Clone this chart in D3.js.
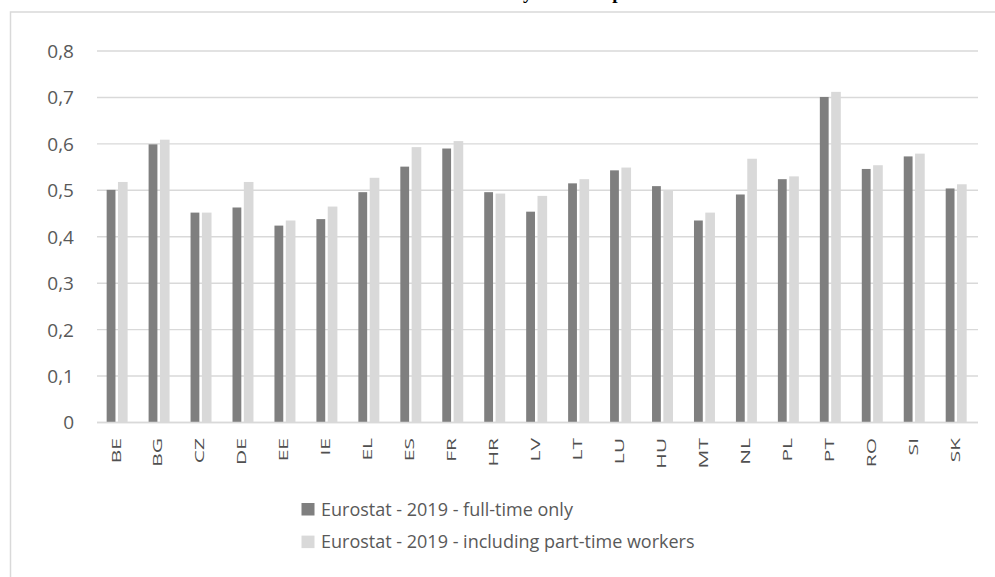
<!DOCTYPE html>
<html>
<head>
<meta charset="utf-8">
<script src="https://cdn.jsdelivr.net/npm/d3@7"></script>
<style>
  html, body { margin: 0; padding: 0; background: #fff; }
  svg { display: block; }
</style>
</head>
<body>
<svg id="chart" width="995" height="577"></svg>
<script>
const title = "Kaitz index by full-time/part-time";
const countries = ["BE","BG","CZ","DE","EE","IE","EL","ES","FR","HR","LV","LT","LU","HU","MT","NL","PL","PT","RO","SI","SK"];
const fullTimeOnly = [0.501,0.599,0.452,0.463,0.424,0.438,0.496,0.551,0.590,0.496,0.454,0.515,0.543,0.509,0.435,0.491,0.524,0.701,0.546,0.573,0.504];
const inclPartTime = [0.518,0.609,0.452,0.518,0.435,0.465,0.527,0.593,0.606,0.493,0.488,0.524,0.549,0.500,0.452,0.568,0.530,0.712,0.554,0.579,0.513];
const seriesNames = ["Eurostat - 2019 - full-time only", "Eurostat - 2019 - including part-time workers"];
const yTicks = [0,0.1,0.2,0.3,0.4,0.5,0.6,0.7,0.8];

const colors = ["#7f7f7f", "#d9d9d9"];
const textColor = "#595959";
const gridColor = "#d9d9d9";
const font = "'Open Sans', 'Noto Sans', sans-serif";

const svg = d3.select("#chart");

// Chart frame (cut off at right / bottom)
svg.append("path")
  .attr("d", "M10.5,1000 L10.5,12 L1000,12")
  .attr("fill", "none").attr("stroke", "#d9d9d9").attr("stroke-width", 1.5);

// Partially visible title (cut off at the top edge, as in the reference)
const t = svg.append("text")
  .attr("y", -1)
  .attr("font-family", "'Liberation Serif', 'Times New Roman', serif")
  .attr("font-weight", "bold")
  .attr("font-size", 19)
  .attr("fill", "#000")
  .text(title);
const yIdx = title.indexOf("by") + 1;
let off = 108.7;
try { off = t.node().getSubStringLength(0, yIdx); } catch (e) {}
t.attr("x", 523 - off);

const x = d3.scaleBand().domain(countries).range([97, 978]).padding(0);
const y = d3.scaleLinear().domain([0, 0.8]).range([422.5, 51]);

// Gridlines
svg.append("g").selectAll("line").data(yTicks).join("line")
  .attr("x1", 97).attr("x2", 978)
  .attr("y1", d => y(d)).attr("y2", d => y(d))
  .attr("stroke", gridColor).attr("stroke-width", 1.4);

// Y axis labels
const yAxis = d3.axisLeft(y).tickValues(yTicks).tickSize(0).tickPadding(0)
  .tickFormat(d => d === 0 ? "0" : d3.format(".1f")(d).replace(".", ","));
const yg = svg.append("g").attr("transform", "translate(74,0)").call(yAxis);
yg.select(".domain").remove();
yg.selectAll("text")
  .attr("font-family", font).attr("font-size", 19).attr("fill", textColor)
  .attr("dy", "0.34em");

// Bars
const bw = x.bandwidth();
const series = [fullTimeOnly, inclPartTime];
const offsets = [0.23, 0.50];
const widths = [0.21, 0.23];
series.forEach((vals, si) => {
  svg.append("g").selectAll("rect").data(countries).join("rect")
    .attr("x", c => x(c) + offsets[si] * bw)
    .attr("width", widths[si] * bw)
    .attr("y", (c, i) => y(vals[i]))
    .attr("height", (c, i) => y(0) - y(vals[i]))
    .attr("fill", colors[si]);
});

// Bottom axis line
svg.append("line")
  .attr("x1", 97).attr("x2", 978).attr("y1", y(0)).attr("y2", y(0))
  .attr("stroke", gridColor).attr("stroke-width", 1.4);

// X labels (rotated)
const xAxis = d3.axisBottom(x).tickSize(0).tickPadding(0);
const xg = svg.append("g").call(xAxis);
xg.select(".domain").remove();
xg.selectAll(".tick").attr("transform", null);
xg.selectAll(".tick text")
  .attr("font-family", font).attr("font-size", 12).attr("fill", "#505050")
  .attr("text-anchor", "end")
  .attr("dy", null).attr("y", 0).attr("x", 0)
  .attr("dominant-baseline", "central")
  .attr("transform", d => `translate(${x(d) + bw / 2 - 2},438) rotate(-90) scale(1.75,1)`);

// Legend
const legend = svg.append("g");
seriesNames.forEach((name, i) => {
  const gy = 503 + i * 32.6;
  legend.append("rect").attr("x", 301.5).attr("y", gy).attr("width", 13).attr("height", 12.5).attr("fill", colors[i]);
  legend.append("text").attr("x", 321).attr("y", gy + 12.5)
    .attr("font-family", font).attr("font-size", 18).attr("fill", textColor)
    .text(name);
});
</script>
</body>
</html>
